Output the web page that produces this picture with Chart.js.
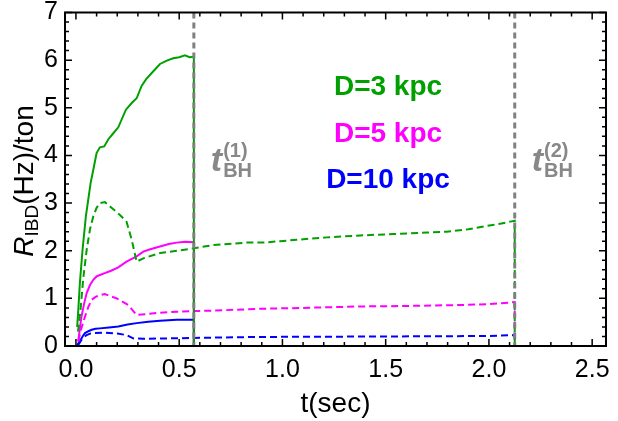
<!DOCTYPE html>
<html>
<head>
<meta charset="utf-8">
<script src="https://cdn.jsdelivr.net/npm/chart.js@4"></script>
<style>
html,body{margin:0;padding:0;background:#fff;}
canvas{display:block;}
</style>
</head>
<body>
<canvas id="c" width="618" height="421"></canvas>
<script>
// ---- data: [t (sec), R (Hz/ton)] ----
const d3Solid = [[0.006,0.40],[0.012,0.80],[0.019,1.32],[0.032,2.02],[0.048,2.72],[0.071,3.42],[0.085,3.72],[0.100,4.05],[0.116,4.17],[0.137,4.19],[0.157,4.34],[0.180,4.46],[0.205,4.59],[0.242,4.96],[0.270,5.10],[0.294,5.20],[0.318,5.46],[0.340,5.60],[0.367,5.73],[0.407,5.92],[0.440,5.99],[0.471,6.04],[0.500,6.06],[0.528,6.10],[0.550,6.06],[0.571,6.07],[0.571,0]];
const d3Dashed = [[0.010,0.30],[0.023,0.80],[0.035,1.40],[0.052,2.02],[0.068,2.45],[0.084,2.72],[0.100,2.90],[0.116,3.00],[0.140,3.02],[0.165,2.93],[0.213,2.75],[0.245,2.61],[0.270,2.23],[0.294,1.77],[0.326,1.84],[0.407,1.95],[0.488,2.00],[0.571,2.05],[0.665,2.12],[0.827,2.17],[0.907,2.17],[0.988,2.20],[1.069,2.23],[1.214,2.28],[1.375,2.32],[1.537,2.35],[1.700,2.38],[1.795,2.40],[1.900,2.45],[1.989,2.52],[2.060,2.57],[2.125,2.63],[2.125,0]];
const d5Solid = [[0.011,0.09],[0.020,0.40],[0.027,0.62],[0.040,0.90],[0.052,1.11],[0.068,1.28],[0.084,1.39],[0.100,1.46],[0.116,1.49],[0.140,1.53],[0.170,1.58],[0.205,1.65],[0.245,1.77],[0.294,1.88],[0.326,1.98],[0.360,2.03],[0.407,2.09],[0.450,2.14],[0.488,2.17],[0.528,2.19],[0.571,2.18],[0.571,0]];
const d5Dashed = [[0.011,0.10],[0.025,0.35],[0.044,0.62],[0.060,0.82],[0.076,0.97],[0.095,1.03],[0.116,1.07],[0.140,1.09],[0.197,1.00],[0.253,0.86],[0.294,0.65],[0.342,0.67],[0.407,0.70],[0.488,0.72],[0.571,0.735],[0.649,0.74],[0.891,0.78],[1.100,0.80],[1.375,0.83],[1.600,0.84],[1.860,0.86],[2.000,0.88],[2.125,0.92],[2.125,0]];
const d10Solid = [[0.006,0.02],[0.015,0.08],[0.023,0.13],[0.035,0.22],[0.044,0.27],[0.060,0.31],[0.076,0.34],[0.095,0.36],[0.116,0.37],[0.160,0.39],[0.205,0.41],[0.250,0.45],[0.294,0.48],[0.350,0.51],[0.407,0.53],[0.488,0.55],[0.571,0.55],[0.571,0]];
const d10Dashed = [[0.010,0.02],[0.020,0.08],[0.027,0.13],[0.040,0.19],[0.052,0.23],[0.068,0.26],[0.084,0.27],[0.140,0.28],[0.200,0.26],[0.245,0.23],[0.277,0.16],[0.326,0.15],[0.450,0.16],[0.571,0.17],[0.891,0.19],[1.500,0.20],[2.000,0.21],[2.125,0.23],[2.125,0]];
const tBH = [0.571, 2.125];
const tBHLabels = ['(1)', '(2)'];
const seriesLabels = ['D=3 kpc', 'D=5 kpc', 'D=10 kpc'];
const xTickValues = [0, 0.5, 1.0, 1.5, 2.0, 2.5];
const xTickLabels = ['0.0', '0.5', '1.0', '1.5', '2.0', '2.5'];
const yTickValues = [0, 1, 2, 3, 4, 5, 6, 7];
const yTickLabels = ['0', '1', '2', '3', '4', '5', '6', '7'];

const FONT = "'Liberation Sans', Arial, sans-serif";
const GREEN = '#00a000', MAGENTA = '#ff00ff', BLUE = '#0000ff', GRAY = '#808080';

function pts(a){ return a.map(p => ({x:p[0], y:p[1]})); }
function ds(a, color, dashed){
  return {data: pts(a), borderColor: color, borderWidth: 2, borderDash: dashed ? [7,4] : [], pointRadius: 0, tension: 0, fill: false};
}

const framePlugin = {
  id: 'frame',
  afterDatasetsDraw(chart){
    const ctx = chart.ctx, a = chart.chartArea, xs = chart.scales.x, ys = chart.scales.y;
    ctx.save();
    // t_BH vertical dashed lines
    ctx.strokeStyle = GRAY; ctx.lineWidth = 3; ctx.setLineDash([6,4]);
    tBH.forEach(t => {
      const px = xs.getPixelForValue(t);
      ctx.beginPath(); ctx.moveTo(px, a.top); ctx.lineTo(px, a.bottom); ctx.stroke();
    });
    ctx.setLineDash([]);
    // frame
    ctx.strokeStyle = '#000'; ctx.lineWidth = 2;
    ctx.strokeRect(a.left, a.top, a.right - a.left, a.bottom - a.top);
    // ticks (inward)
    ctx.lineWidth = 1.5;
    for (let i = 0; i <= 25; i++) {
      const v = i / 10, px = xs.getPixelForValue(v), L = (i % 5 === 0) ? 7 : 4;
      ctx.beginPath();
      ctx.moveTo(px, a.bottom); ctx.lineTo(px, a.bottom - L);
      ctx.moveTo(px, a.top); ctx.lineTo(px, a.top + L);
      ctx.stroke();
    }
    for (let i = 0; i <= 35; i++) {
      const v = i / 5, py = ys.getPixelForValue(v), L = (i % 5 === 0) ? 7 : 4;
      ctx.beginPath();
      ctx.moveTo(a.left, py); ctx.lineTo(a.left + L, py);
      ctx.moveTo(a.right, py); ctx.lineTo(a.right - L, py);
      ctx.stroke();
    }
    // series labels
    ctx.textAlign = 'center'; ctx.textBaseline = 'alphabetic';
    ctx.font = 'bold 28px ' + FONT;
    const cols = [GREEN, MAGENTA, BLUE], ys0 = [95, 142, 188];
    seriesLabels.forEach((s, i) => { ctx.fillStyle = cols[i]; ctx.fillText(s, 388, ys0[i]); });
    // t_BH labels
    ctx.textAlign = 'left'; ctx.fillStyle = '#888888';
    tBH.forEach((t, i) => {
      const px = xs.getPixelForValue(t) + 17;
      ctx.font = 'italic bold 34px ' + FONT;
      ctx.fillText('t', px, 171);
      const w = ctx.measureText('t').width;
      ctx.font = 'bold 20px ' + FONT;
      ctx.fillText(tBHLabels[i], px + w + 1, 157);
      ctx.fillText('BH', px + w + 1, 177);
    });
    // y-axis title
    ctx.translate(23, 181); ctx.rotate(-Math.PI / 2);
    ctx.fillStyle = '#000';
    const f1 = 'italic 28px ' + FONT, f2 = '19px ' + FONT, f3 = '28px ' + FONT;
    ctx.font = f1; const w1 = ctx.measureText('R').width;
    ctx.font = f2; const w2 = ctx.measureText('IBD').width;
    ctx.font = f3; const w3 = ctx.measureText('(Hz)/ton').width;
    let x0 = -(w1 + w2 + w3) / 2;
    ctx.font = f1; ctx.fillText('R', x0, 10); x0 += w1;
    ctx.font = f2; ctx.fillText('IBD', x0, 15); x0 += w2;
    ctx.font = f3; ctx.fillText('(Hz)/ton', x0, 10);
    ctx.restore();
  }
};

new Chart(document.getElementById('c').getContext('2d'), {
  type: 'line',
  data: { datasets: [
    ds(d3Solid, GREEN, false), ds(d3Dashed, GREEN, true),
    ds(d5Solid, MAGENTA, false), ds(d5Dashed, MAGENTA, true),
    ds(d10Solid, BLUE, false), ds(d10Dashed, BLUE, true)
  ]},
  options: {
    responsive: false, animation: false, devicePixelRatio: 1,
    layout: { padding: { left: 0, right: 12, top: 12.5, bottom: 0 } },
    plugins: { legend: { display: false }, tooltip: { enabled: false } },
    scales: {
      x: {
        type: 'linear', min: -0.053, max: 2.567,
        grid: { display: false, drawTicks: false }, border: { display: false },
        afterBuildTicks: s => { s.ticks = xTickValues.map(v => ({ value: v })); },
        ticks: { font: { size: 25, family: FONT }, color: '#000', padding: 9, maxRotation: 0, autoSkip: false,
                 callback: (v) => { const i = xTickValues.indexOf(v); return i >= 0 ? xTickLabels[i] : ''; } },
        title: { display: true, text: 't(sec)', color: '#000', font: { size: 28, family: FONT }, padding: { top: 0, bottom: 0 } },
        afterFit: s => { s.height = 75; s.paddingLeft = 0; s.paddingRight = 0; }
      },
      y: {
        type: 'linear', min: 0, max: 7,
        grid: { display: false, drawTicks: false }, border: { display: false },
        afterBuildTicks: s => { s.ticks = yTickValues.map(v => ({ value: v })); },
        ticks: { font: { size: 25, family: FONT }, color: '#000', padding: 7, autoSkip: false,
                 callback: (v) => { const i = yTickValues.indexOf(v); return i >= 0 ? yTickLabels[i] : ''; } },
        afterFit: s => { s.width = 65; s.paddingTop = 0; s.paddingBottom = 0; }
      }
    }
  },
  plugins: [framePlugin]
});
</script>
</body>
</html>
